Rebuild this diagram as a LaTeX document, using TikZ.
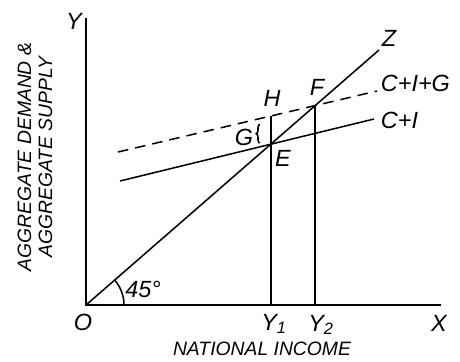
\documentclass[tikz,border=0pt]{standalone}
\usepackage{fontspec}
\setmainfont{Liberation Sans}
\usetikzlibrary{calc,decorations.pathreplacing}

\begin{document}
\begin{tikzpicture}[x=0.03cm,y=-0.03cm,line width=1.3pt,
  ptlabel/.style={font=\itshape\fontsize{20}{22}\selectfont,inner sep=1pt},
  axlabel/.style={font=\itshape\fontsize{16.5}{18}\selectfont,align=center,inner sep=1pt}]
  \useasboundingbox[fill=white] (0,0) rectangle (460,361);
  % axes and the schedules
  \coordinate (O) at (86,305);
  \coordinate (ytop) at (86,18);
  \coordinate (xend) at (441,305);
  \coordinate (Z) at (379,50);
  \coordinate (ci0) at (120,181);
  \coordinate (ci1) at (374,119);
  \coordinate (cig0) at (118,152);
  \coordinate (cig1) at (377,91);
  \coordinate (E) at (intersection of O--Z and ci0--ci1);
  \coordinate (F) at (intersection of O--Z and cig0--cig1);
  \coordinate (Y1) at (E |- O);
  \coordinate (Y2) at (F |- O);
  \coordinate (H) at ($(E)+(0,-28)$);
  \draw (ytop) -- (O) -- (xend);
  \draw (O) -- (Z);
  \draw (ci0) -- (ci1);
  \draw[dash pattern=on 9pt off 6pt] (cig0) -- (cig1);
  \draw (Y1) -- (H);
  \draw (Y2) -- (F);
  \draw ($(O)+(38,0)$) arc[start angle=0,end angle=41,radius=1.14cm];
  \draw[decorate,decoration={brace,amplitude=3pt}] ($(E)+(-11,-1)$) -- ($(E)+(-11,-20)$);
  % labels
  \node[ptlabel] (lO) at (83,322) {O};
  \node[ptlabel] (lY) at (74,21) {Y};
  \node[ptlabel] (lX) at (439,323) {X};
  \node[ptlabel] (lZ) at (389,38) {Z};
  \node[ptlabel] (lH) at (272,98) {H};
  \node[ptlabel] (lF) at (317,87) {F};
  \node[ptlabel] (lG) at (244,137) {G};
  \node[ptlabel] (lE) at (283,158) {E};
  \node[ptlabel,anchor=west] (lcig) at (379,83) {C+I+G};
  \node[ptlabel,anchor=west] (lci) at (379,120) {C+I};
  \node[ptlabel] (l45) at (143,289) {45°};
  \node[ptlabel] (lY1) at (274,324) {Y\textsubscript{1}};
  \node[ptlabel] (lY2) at (321,325) {Y\textsubscript{2}};
  \node[axlabel] (xname) at (262,349) {NATIONAL INCOME};
  \node[axlabel,rotate=90] (yname) at (35,157) {AGGREGATE DEMAND \&\\AGGREGATE SUPPLY};
\end{tikzpicture}
\end{document}
